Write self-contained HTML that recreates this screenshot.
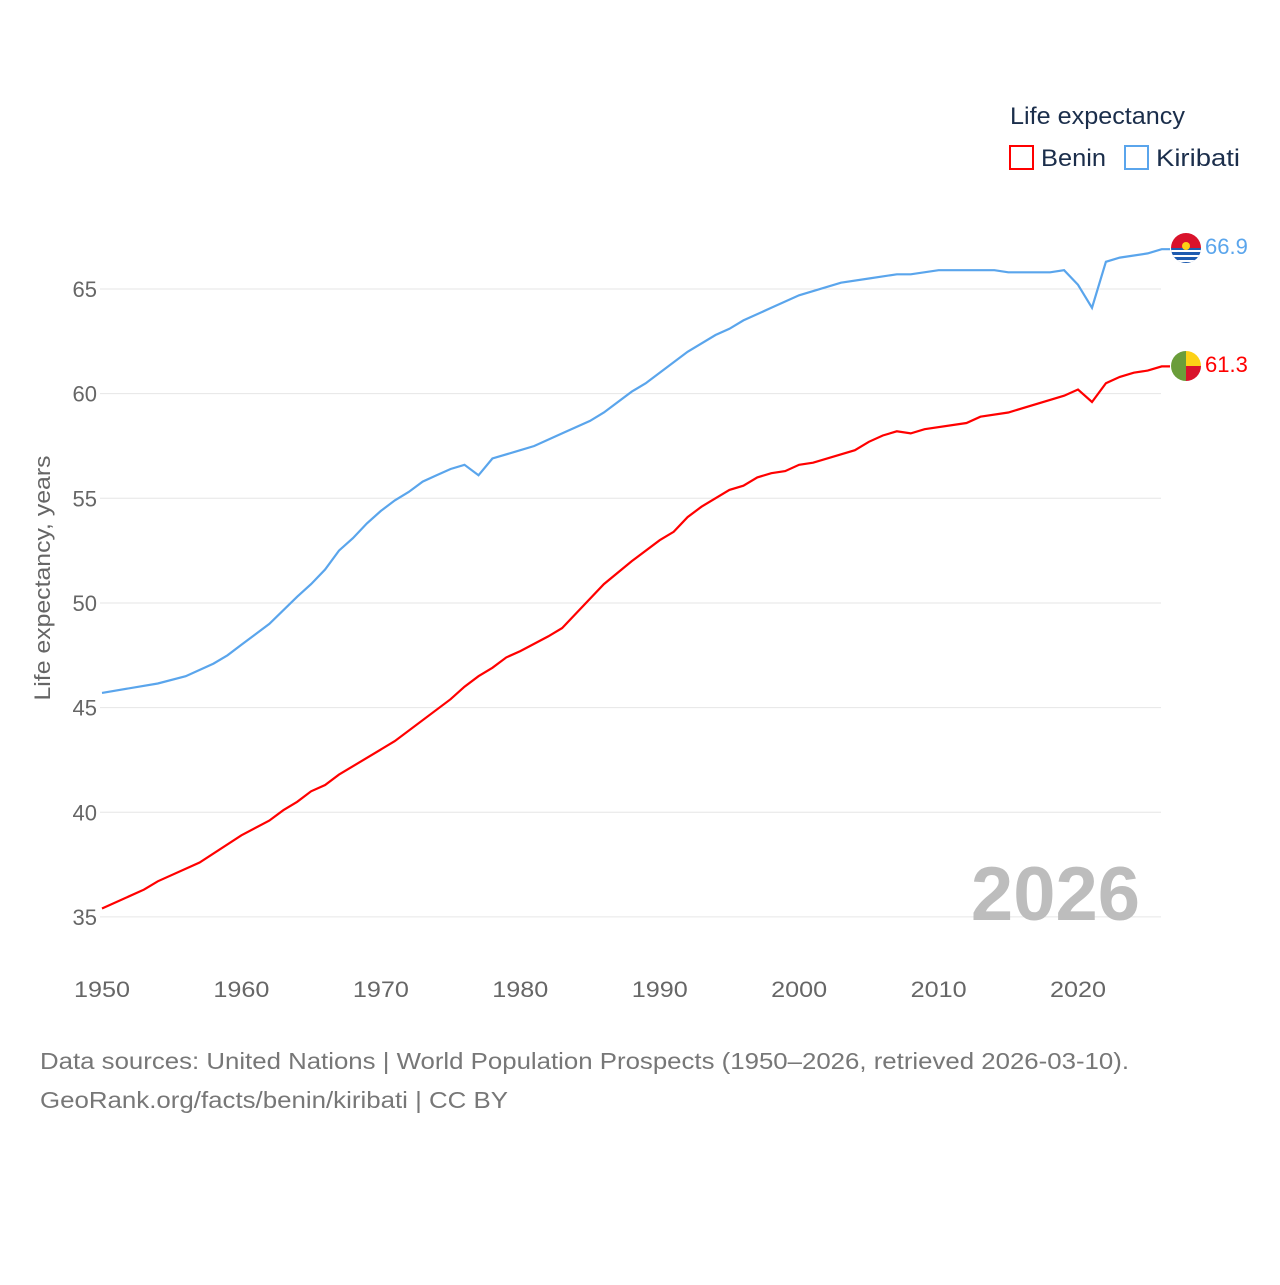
<!DOCTYPE html>
<html><head><meta charset="utf-8"><style>
body{margin:0;background:#fff;font-family:"Liberation Sans",sans-serif;}
svg text{font-family:"Liberation Sans",sans-serif;}
</style></head><body>
<svg id="s" width="1280" height="1280" xmlns="http://www.w3.org/2000/svg">
<rect width="1280" height="1280" fill="#fff"/>
<g id="grid" stroke="#e6e6e6" stroke-width="1"></g>
<g id="yl" fill="#666" font-size="22" text-anchor="end"></g>
<g id="xl" fill="#666" font-size="22" text-anchor="middle"></g>
<text transform="translate(50,578) rotate(-90)" fill="#666" font-size="22" text-anchor="middle" textLength="245" lengthAdjust="spacingAndGlyphs">Life expectancy, years</text>
<text x="1140" y="920" fill="#bdbdbd" font-size="76" font-weight="bold" text-anchor="end">2026</text>
<path id="pk" fill="none" stroke="#5aa5ec" stroke-width="2.2"/>
<path id="pb" fill="none" stroke="#f00" stroke-width="2.2"/>
<text x="1010" y="124" fill="#1b2e4b" font-size="24" textLength="175" lengthAdjust="spacingAndGlyphs">Life expectancy</text>
<rect x="1010" y="146" width="23" height="23" fill="none" stroke="#f00" stroke-width="2"/>
<text x="1041" y="166" fill="#1b2e4b" font-size="24" textLength="65" lengthAdjust="spacingAndGlyphs">Benin</text>
<rect x="1125" y="146" width="23" height="23" fill="none" stroke="#5aa5ec" stroke-width="2"/>
<text x="1156" y="166" fill="#1b2e4b" font-size="24" textLength="84" lengthAdjust="spacingAndGlyphs">Kiribati</text>
<clipPath id="ck"><circle cx="1186" cy="248" r="15"/></clipPath>
<g clip-path="url(#ck)"><rect x="1170" y="232" width="32" height="16" fill="#d9122b"/><rect x="1170" y="248" width="32" height="16" fill="#1e5bb0"/>
<rect x="1170" y="250" width="32" height="2" fill="#fff"/><rect x="1170" y="255" width="32" height="2" fill="#fff"/><rect x="1170" y="260" width="32" height="2" fill="#fff"/>
<circle cx="1186" cy="246" r="4" fill="#fcd116"/></g>
<text x="1205" y="254" fill="#5aa5ec" font-size="22">66.9</text>
<clipPath id="cb"><circle cx="1186" cy="366" r="15"/></clipPath>
<g clip-path="url(#cb)"><rect x="1170" y="350" width="16" height="32" fill="#6a9d3a"/><rect x="1186" y="350" width="16" height="16" fill="#fcd116"/><rect x="1186" y="366" width="16" height="16" fill="#d9122b"/></g>
<text x="1205" y="372" fill="#f00" font-size="22">61.3</text>
<text x="40" y="1069" fill="#777" font-size="23" textLength="1089" lengthAdjust="spacingAndGlyphs">Data sources: United Nations | World Population Prospects (1950–2026, retrieved 2026-03-10).</text>
<text x="40" y="1108" fill="#777" font-size="23" textLength="468" lengthAdjust="spacingAndGlyphs">GeoRank.org/facts/benin/kiribati | CC BY</text>
</svg>
<script>
const X=y=>102+(y-1950)*13.943, Y=v=>289+(65-v)*20.93, NS="http://www.w3.org/2000/svg";
function el(p,t,a,txt){const e=document.createElementNS(NS,t);for(const k in a)e.setAttribute(k,a[k]);if(txt)e.textContent=txt;document.getElementById(p).appendChild(e);}
for(let v=35;v<=65;v+=5){el('grid','line',{x1:100,x2:1161,y1:Y(v),y2:Y(v)});el('yl','text',{x:97,y:Y(v)+8},String(v));}
for(let y=1950;y<=2020;y+=10)el('xl','text',{x:X(y),y:997,textLength:56,lengthAdjust:'spacingAndGlyphs'},String(y));
const k=[[1950,45.7],[1954,46.15],[1956,46.5],[1958,47.1],[1959,47.5],[1960,48],[1962,49],[1964,50.3],[1965,50.9],[1966,51.6],[1967,52.5],[1968,53.1],[1969,53.8],[1970,54.4],[1971,54.9],[1972,55.3],[1973,55.8],[1974,56.1],[1975,56.4],[1976,56.6],[1977,56.1],[1978,56.9],[1980,57.3],[1981,57.5],[1983,58.1],[1985,58.7],[1986,59.1],[1988,60.1],[1989,60.5],[1990,61],[1992,62],[1994,62.8],[1995,63.1],[1996,63.5],[1998,64.1],[2000,64.7],[2003,65.3],[2005,65.5],[2007,65.7],[2008,65.7],[2010,65.9],[2014,65.9],[2015,65.8],[2018,65.8],[2019,65.9],[2020,65.2],[2021,64.1],[2022,66.3],[2023,66.5],[2025,66.7],[2026,66.9]];
const b=[[1950,35.4],[1953,36.3],[1954,36.7],[1957,37.6],[1960,38.9],[1962,39.6],[1963,40.1],[1964,40.5],[1965,41],[1966,41.3],[1967,41.8],[1971,43.4],[1975,45.4],[1976,46],[1977,46.5],[1978,46.9],[1979,47.4],[1980,47.7],[1982,48.4],[1983,48.8],[1984,49.5],[1986,50.9],[1988,52],[1990,53],[1991,53.4],[1992,54.1],[1993,54.6],[1995,55.4],[1996,55.6],[1997,56],[1998,56.2],[1999,56.3],[2000,56.6],[2001,56.7],[2004,57.3],[2005,57.7],[2006,58],[2007,58.2],[2008,58.1],[2009,58.3],[2012,58.6],[2013,58.9],[2015,59.1],[2019,59.9],[2020,60.2],[2021,59.6],[2022,60.5],[2023,60.8],[2024,61],[2025,61.1],[2026,61.3]];
const d=a=>a.map((p,i)=>(i?'L':'M')+X(p[0]).toFixed(1)+','+Y(p[1]).toFixed(1)).join('')+'L1170,'+Y(a[a.length-1][1]).toFixed(1);
document.getElementById('pk').setAttribute('d',d(k));
document.getElementById('pb').setAttribute('d',d(b));
</script>
</body></html>
